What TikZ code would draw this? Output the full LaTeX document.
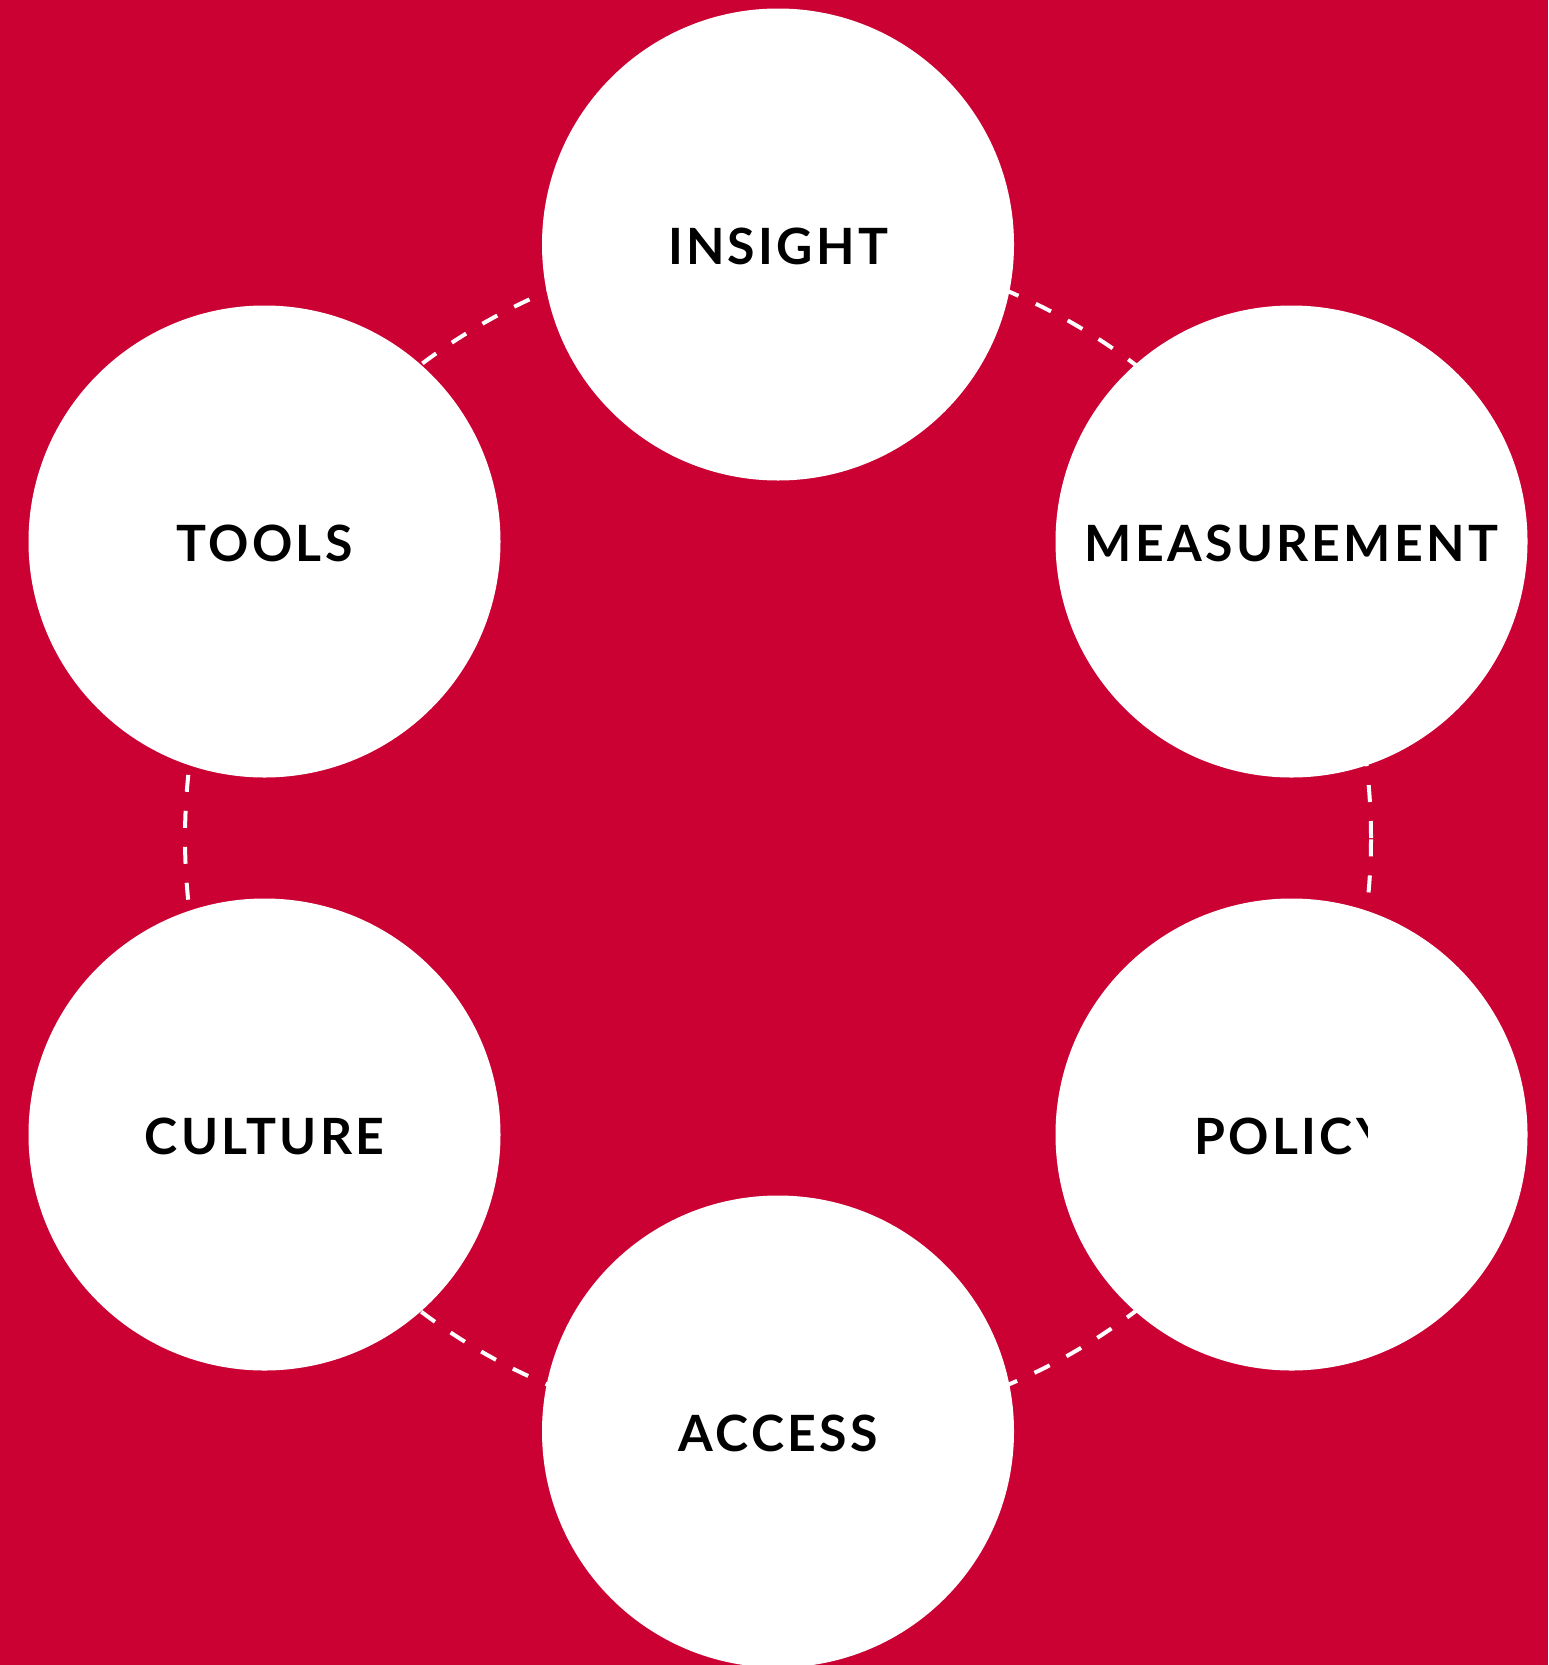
\documentclass[tikz,border=0pt]{standalone}
\usepackage{fontspec}
\newfontfamily\labfont{Lato}[LetterSpace=6.5, BoldFont={Lato Bold}]
\definecolor{bgred}{HTML}{CB0033}
\tikzset{
  bubble/.style={circle, fill=white, minimum size=472pt, inner sep=0pt},
  lab/.style={font=\labfont\bfseries\fontsize{50}{50}\selectfont, text=black, inner sep=0pt, anchor=center},
  ring/.style={draw=white, line width=4pt, dash pattern=on 17pt off 19pt}
}
\begin{document}
\begin{tikzpicture}[x=1pt,y=-1pt]
  \fill[bgred] (0,0) rectangle (1548,1665);
  \useasboundingbox (0,0) rectangle (1548,1665);
  \coordinate (hub) at (778,838);
  \draw[ring] (hub) circle[radius=593pt];
  \node[bubble] (insight) at (778,244.5) {};
  \node[bubble] (tools) at (264.5,541.5) {};
  \node[bubble] (measurement) at (1291.5,541.5) {};
  \node[bubble] (culture) at (264.5,1134.5) {};
  \node[bubble] (policy) at (1291.5,1134.5) {};
  \node[bubble] (access) at (778,1431.5) {};
  \node[lab] (tinsight) at ([yshift=-2pt]insight) {INSIGHT};
  \node[lab] (ttools) at ([yshift=-2pt]tools) {TOOLS};
  \node[lab] (tmeasurement) at ([yshift=-2pt]measurement) {MEASUREMENT};
  \node[lab] (tculture) at ([yshift=-2pt]culture) {CULTURE};
  \begin{scope}
    \clip (1100,1080) rectangle (1367,1200);
    \node[lab] (tpolicy) at ([yshift=-2pt]policy) {POLICY};
  \end{scope}
  \node[lab] (taccess) at ([yshift=-2pt]access) {ACCESS};
\end{tikzpicture}
\end{document}
